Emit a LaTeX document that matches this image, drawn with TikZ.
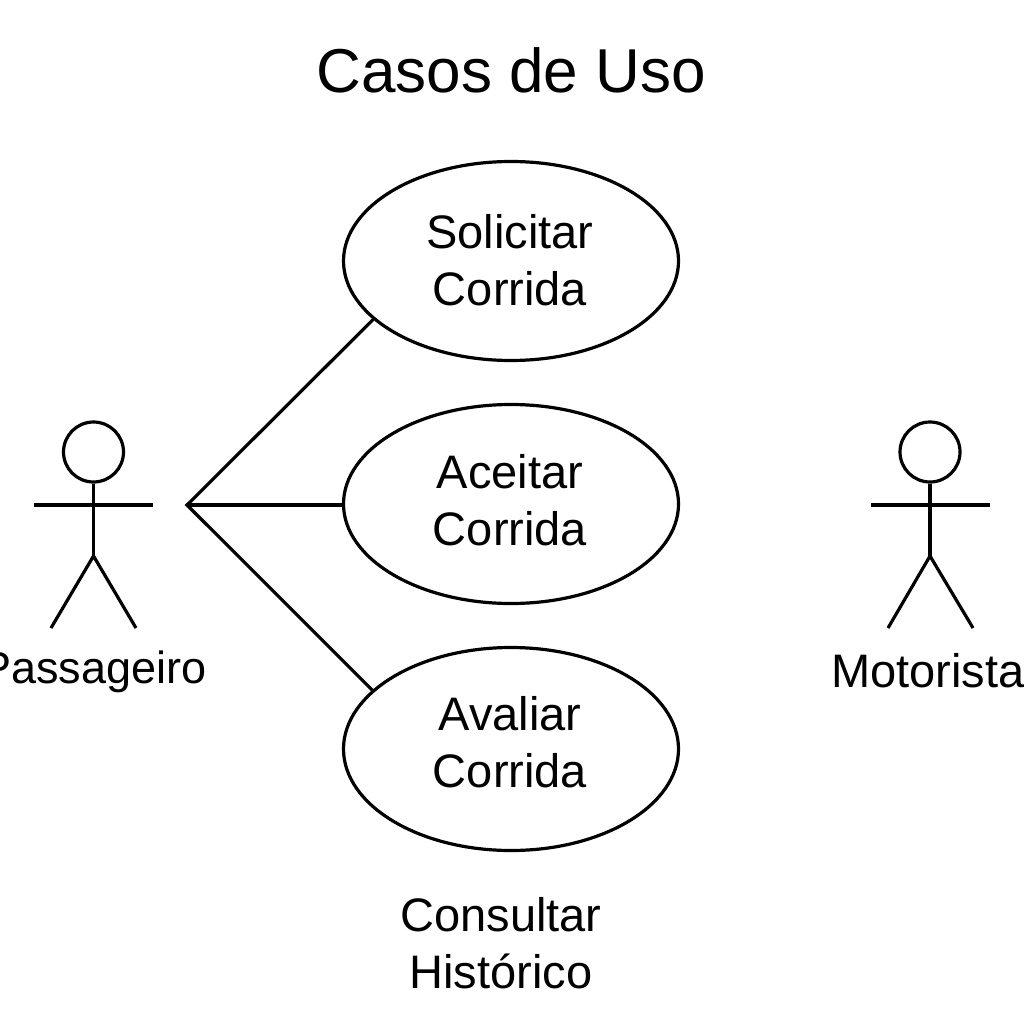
\documentclass[tikz,border=0pt]{standalone}
\usepackage{fontspec}
\setmainfont{Liberation Sans}
\usepackage{tikz}
\usetikzlibrary{positioning,shapes.geometric}

\begin{document}
\begin{tikzpicture}[x=1pt,y=-1pt,every node/.style={font=\fontsize{47}{57}\selectfont,inner sep=0pt,align=center}]
		\tikzstyle{usecase}=[ellipse, draw, line width=3.2pt, minimum width=335pt, minimum height=199pt]
		\tikzstyle{head}=[circle, draw, line width=3.2pt, minimum size=60pt]
		\tikzstyle{limb}=[line width=3.2pt]
		
		\useasboundingbox (0,0) rectangle (1024,1024);
		
		\node[font=\fontsize{62}{70}\selectfont] (title) at (511,70) {Casos de Uso};
		
		\node[usecase] (solicitar) at (511,261) {};
		\node[usecase] (aceitar)   at (511,504) {};
		\node[usecase, minimum height=203pt] (avaliar) at (511,749) {};
		\node (solicitartext) at (510,260) {Solicitar\\Corrida};
		\node (aceitartext)   at (510,500) {Aceitar\\Corrida};
		\node (avaliartext)   at (510,742) {Avaliar\\Corrida};
		\node (consultar) at (501,943) {Consultar\\Histórico};
		
		% Passageiro
		\node[head] (head1) at (93.5,452) {};
		\coordinate (hip1) at (93.5,556);
		\coordinate (armL1) at (34,505);
		\coordinate (armR1) at (153,505);
		\coordinate (footL1) at (51,628);
		\coordinate (footR1) at (136,628);
		\draw[limb] (head1) -- (hip1);
		\draw[limb] (armL1) -- (armR1);
		\draw[limb] (footL1) -- (hip1) -- (footR1);
		\node[font=\fontsize{45}{57}\selectfont] (passageiro) at (94,672) {Passageiro};
		
		% Motorista
		\node[head] (head2) at (930,452) {};
		\coordinate (hip2) at (930,556);
		\coordinate (armL2) at (871,505);
		\coordinate (armR2) at (990,505);
		\coordinate (footL2) at (888,628);
		\coordinate (footR2) at (973,628);
		\draw[limb] (head2) -- (hip2);
		\draw[limb] (armL2) -- (armR2);
		\draw[limb] (footL2) -- (hip2) -- (footR2);
		\node (motorista) at (928,671) {Motorista};
		
		\coordinate (fan) at (187,505);
		\draw[limb] (solicitar.203) -- (fan) -- (avaliar.157);
		\draw[limb] (fan) -- (aceitar.west |- fan);
		\end{tikzpicture}
\end{document}
